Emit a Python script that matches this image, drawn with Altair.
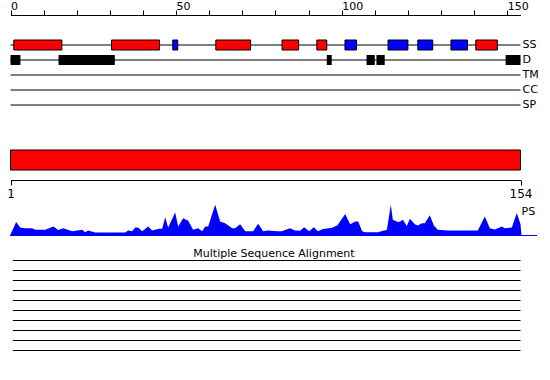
import altair as alt
import pandas as pd

FONT = "DejaVu Sans"

# ---------------- data ----------------
TRACKS = ["SS", "D", "TM", "CC", "SP"]
TRACK_START = [0, 0, 0, 0, 0]
TRACK_END = [154, 154, 154, 154, 154]
RULER_TICKS = list(range(0, 151, 10))

# secondary structure elements (H = helix, E = strand)
SS_START = [1, 30.5, 49, 62, 82, 92.5, 101, 114, 123, 133, 140.5]
SS_END = [15.5, 45, 50.5, 72.5, 87, 95.5, 104.5, 120, 127.5, 138, 147]
SS_TYPE = ["H", "H", "E", "H", "H", "H", "E", "E", "E", "E", "H"]

# disordered segments
D_START = [0, 14.5, 95.5, 107.5, 110.5, 149.5]
D_END = [3, 31.5, 97, 110, 113, 154]

SEQ_FIRST, SEQ_LAST = 1, 154

# PS profile
PS_POS = [1.0, 2.7, 3.9, 5.4, 7.5, 8.4, 11.4, 13.9, 15.3, 16.8, 19.5, 22.5, 23.4, 24.3,
          26.4, 35.4, 36.3, 37.5, 38.4, 39.3, 40.5, 42.3, 43.5, 45.6, 46.5, 47.4, 48.3,
          50.4, 51.3, 52.8, 54.3, 55.8, 57.3, 58.5, 59.4, 60.3, 62.4, 63.9, 65.4, 67.5,
          68.4, 69.9, 71.4, 73.8, 75.3, 76.8, 78.2, 81.2, 82.4, 84.8, 86.4, 87.9, 89.1,
          90.6, 92.0, 93.2, 94.8, 97.5, 99.1, 101.4, 102.9, 104.4, 105.3, 106.5, 107.4,
          111.3, 112.7, 113.9, 115.1, 115.7, 117.2, 117.9, 118.7, 119.9, 120.8, 122.3,
          123.2, 124.4, 125.3, 126.8, 128.0, 129.2, 132.2, 141.2, 143.3, 144.8, 146.3,
          148.4, 149.3, 151.4, 152.9, 154.0, 154.3]
PS_VAL = [0.03, 0.42, 0.25, 0.23, 0.23, 0.18, 0.18, 0.28, 0.17, 0.23, 0.13, 0.18, 0.10, 0.16,
          0.09, 0.09, 0.16, 0.13, 0.25, 0.25, 0.13, 0.28, 0.16, 0.21, 0.21, 0.57, 0.25,
          0.72, 0.28, 0.54, 0.46, 0.18, 0.23, 0.13, 0.28, 0.28, 0.96, 0.44, 0.38, 0.23,
          0.23, 0.35, 0.13, 0.13, 0.37, 0.13, 0.16, 0.13, 0.13, 0.23, 0.16, 0.15, 0.26,
          0.13, 0.26, 0.13, 0.20, 0.24, 0.32, 0.67, 0.35, 0.44, 0.44, 0.13, 0.10,
          0.10, 0.15, 0.17, 0.96, 0.49, 0.42, 0.44, 0.49, 0.30, 0.52, 0.35,
          0.31, 0.38, 0.38, 0.63, 0.31, 0.18, 0.16, 0.16, 0.59, 0.23, 0.19,
          0.28, 0.23, 0.25, 0.70, 0.35, 0.0]

MSA_ROWS = list(range(1, 11))
MSA_START = [1.7] * 10
MSA_END = [154] * 10
MSA_TITLE = "Multiple Sequence Alignment"

# ---------------- tables ----------------
tracks_df = pd.DataFrame({"track": TRACKS, "start": TRACK_START, "end": TRACK_END})
ss_df = pd.DataFrame({"track": "SS", "start": SS_START, "end": SS_END, "type": SS_TYPE})
d_df = pd.DataFrame({"track": "D", "start": D_START, "end": D_END})
bar_df = pd.DataFrame({"row": ["seq"], "start": [SEQ_FIRST], "end": [SEQ_LAST]})
ps_df = pd.DataFrame({"pos": PS_POS, "score": PS_VAL})
msa_df = pd.DataFrame({"row": MSA_ROWS, "start": MSA_START, "end": MSA_END})

# ---------------- scales ----------------
x_top = alt.Scale(domain=[0, 154], range=[10.5, 520.5], nice=False, zero=False)
x_bot = alt.Scale(domain=[1, 154], range=[10.5, 520.5], nice=False, zero=False)
y_tracks = alt.Scale(type="band", domain=TRACKS, range=[37.5, 112.5],
                     paddingInner=1 / 3, paddingOuter=1 / 6)
y_bar = alt.Scale(type="band", domain=["seq"], range=[150, 170], paddingInner=0, paddingOuter=0)
y_ps = alt.Scale(domain=[0, 1], range=[235.5, 203.5], nice=False, zero=True)
y_msa = alt.Scale(type="point", domain=MSA_ROWS, range=[260.5, 350.5], padding=0)

top_axis = alt.Axis(orient="top", offset=-15, values=RULER_TICKS,
                    labelExpr="datum.value % 50 === 0 ? datum.label : ''",
                    tickSize=5, labelAlign="left", labelBaseline="alphabetic",
                    labelPadding=1, labelFontSize=11,
                    labelFont=FONT, labelColor="black", domainColor="black",
                    tickColor="black", grid=False, title=None, labelFlush=False,
                    labelOverlap=False)
right_axis = alt.Axis(orient="right", offset=-29, domain=False, ticks=False, tickSize=0,
                      labelPadding=1, labelFontSize=11, labelFont=FONT,
                      labelColor="black", grid=False, title=None)
mid_axis = alt.Axis(orient="bottom", offset=-200, values=[SEQ_FIRST, SEQ_LAST],
                    tickSize=5, labelPadding=3, labelFontSize=12, labelFont=FONT,
                    labelColor="black", domainColor="black", tickColor="black",
                    grid=False, title=None, labelFlush=False, labelOverlap=False)

# ---------------- layers ----------------
track_rules = alt.Chart(tracks_df).mark_rule(color="black", strokeWidth=1).encode(
    x=alt.X("start:Q", scale=x_top, axis=top_axis),
    x2="end:Q",
    y=alt.Y("track:N", scale=y_tracks, axis=right_axis),
)

ss_boxes = alt.Chart(ss_df).mark_bar(stroke="black", strokeWidth=1).encode(
    x=alt.X("start:Q", scale=x_top, axis=None),
    x2="end:Q",
    y=alt.Y("track:N", scale=y_tracks, axis=None),
    color=alt.Color("type:N", scale=alt.Scale(domain=["H", "E"], range=["#FF0000", "#0000FF"]),
                    legend=None),
)

d_boxes = alt.Chart(d_df).mark_bar(color="black").encode(
    x=alt.X("start:Q", scale=x_top, axis=None),
    x2="end:Q",
    y=alt.Y("track:N", scale=y_tracks, axis=None),
)

seq_bar = alt.Chart(bar_df).mark_bar(color="#FF0000", stroke="black", strokeWidth=1).encode(
    x=alt.X("start:Q", scale=x_bot, axis=mid_axis),
    x2="end:Q",
    y=alt.Y("row:N", scale=y_bar, axis=None),
)

ps_area = alt.Chart(ps_df).mark_area(color="#0000FF", opacity=1).encode(
    x=alt.X("pos:Q", scale=x_bot, axis=None),
    y=alt.Y("score:Q", scale=y_ps, axis=None),
)

ps_base = alt.Chart(ps_df).mark_rule(color="#0000FF", strokeWidth=1).encode(
    x=alt.value(10), x2=alt.value(537), y=alt.value(235.5)
)

ps_label = alt.Chart(pd.DataFrame({"t": ["PS"]})).mark_text(
    align="left", baseline="alphabetic", font=FONT, fontSize=11, color="black"
).encode(x=alt.value(521.5), y=alt.value(215), text="t:N")

msa_title = alt.Chart(pd.DataFrame({"t": [MSA_TITLE]})).mark_text(
    align="center", baseline="alphabetic", font=FONT, fontSize=11, color="black"
).encode(x=alt.value(274), y=alt.value(257), text="t:N")

msa_lines = alt.Chart(msa_df).mark_rule(color="black", strokeWidth=1).encode(
    x=alt.X("start:Q", scale=x_bot, axis=None),
    x2="end:Q",
    y=alt.Y("row:O", scale=y_msa, axis=None),
)

chart = alt.layer(
    track_rules, ss_boxes, d_boxes, seq_bar, ps_area, ps_base, ps_label, msa_title, msa_lines
).resolve_scale(
    x="independent", y="independent"
).properties(
    width=550, height=380, padding=0, background="white",
    autosize=alt.AutoSizeParams(type="none"),
).configure_view(stroke=None)

chart.save("out.html", embed_options={"renderer": "svg", "actions": False})
